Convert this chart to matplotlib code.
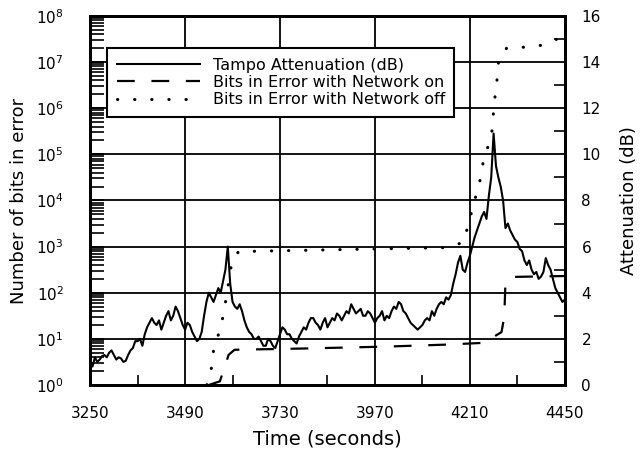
import matplotlib.pyplot as plt
from matplotlib.ticker import FixedLocator, LogLocator, NullFormatter
import numpy as np

# Tampa attenuation (dB), sampled every 6 s from 3250 s to 4450 s
att_t = np.arange(3250, 4451, 6)
att_db = [1.0, 0.8, 1.2, 1.0, 1.1, 1.25, 1.3, 1.2, 1.4, 1.5,
          1.3, 1.1, 1.2, 1.15, 1.0, 1.05, 1.3, 1.5, 1.6, 1.9,
          1.9, 2.0, 1.7, 2.2, 2.5, 2.7, 2.9, 2.7, 2.6, 2.8,
          2.4, 2.7, 3.0, 3.2, 2.8, 3.0, 3.4, 3.2, 2.9, 2.6,
          2.4, 2.7, 2.6, 2.3, 2.1, 1.9, 2.0, 2.3, 3.0, 3.6,
          4.0, 3.8, 3.6, 3.9, 4.2, 4.0, 4.5, 5.0, 6.0, 4.4,
          3.6, 3.4, 3.3, 3.5, 3.2, 2.8, 2.5, 2.3, 2.2, 2.0,
          2.0, 2.1, 1.9, 1.7, 1.7, 2.0, 1.9, 1.7, 1.6, 1.9,
          2.2, 2.5, 2.4, 2.2, 2.2, 2.0, 1.9, 1.8, 2.1, 2.3,
          2.5, 2.4, 2.7, 2.9, 2.9, 2.7, 2.6, 2.4, 2.7, 2.9,
          2.5, 2.7, 2.9, 2.8, 3.1, 3.0, 2.8, 3.0, 3.2, 3.1,
          3.5, 3.3, 3.1, 3.2, 3.3, 3.0, 3.0, 3.2, 3.1, 2.9,
          2.7, 2.9, 3.0, 3.2, 2.8, 3.0, 2.9, 3.2, 3.4, 3.3,
          3.6, 3.5, 3.2, 3.1, 2.9, 2.7, 2.6, 2.5, 2.4, 2.5,
          2.6, 2.8, 2.9, 2.8, 3.2, 3.0, 3.3, 3.5, 3.6, 3.5,
          3.8, 3.7, 3.9, 4.4, 4.8, 5.3, 5.6, 5.0, 4.9, 5.3,
          5.6, 6.0, 6.4, 6.7, 7.0, 7.3, 7.5, 7.2, 8.2, 9.0,
          10.9, 9.5, 9.0, 8.6, 8.0, 6.8, 7.0, 6.7, 6.5, 6.3,
          6.2, 5.9, 5.8, 5.4, 5.2, 5.4, 5.0, 4.8, 4.9, 4.6,
          4.7, 4.9, 5.5, 5.2, 5.0, 4.6, 4.2, 4.0, 3.8, 3.6,
          3.7]

# bits in error, network on
on_t = [3550, 3578, 3600, 3615, 3800, 4000, 4150, 4245, 4290, 4297, 4300, 4320, 4380, 4450]
on_bits = [1, 1.2, 4.5, 5.8, 6.2, 6.8, 7.5, 8.2, 14, 30, 170, 220, 225, 230]

# bits in error, network off
off_t = [3545, 3560, 3562, 3575, 3587, 3608, 3625, 4148, 4194, 4239, 4245,
         4260, 4268, 4270, 4275, 4280, 4283, 4303, 4349, 4390, 4433]
off_bits = [1, 3, 6, 13, 33, 450, 780, 950, 1230, 3.5e4, 8.5e4,
            1.8e5, 4e5, 1e6, 2.2e6, 5.2e6, 1.2e7, 2e7, 2.1e7, 2.3e7, 3.2e7]

x_ticks = [3250, 3490, 3730, 3970, 4210, 4450]

plt.rcParams['font.family'] = ['DejaVu Sans']
plt.rcParams['mathtext.fontset'] = 'dejavusans'

fig = plt.figure(figsize=(6.44, 4.54), dpi=100)
ax = fig.add_axes([0.140, 0.152, 0.737, 0.813])
ax2 = ax.twinx()

ax.set_yscale('log')
ax.set_ylim(1, 1e8)
ax.set_xlim(3250, 4450)
ax2.set_ylim(0, 16)

l_on, = ax.plot(on_t, on_bits, color='black', lw=1.6,
                linestyle=(0, (8, 7.5)),
                label='Bits in Error with Network on')
l_off, = ax.plot(off_t, off_bits, color='black', lw=2.2,
                 linestyle=(0, (0.1, 5.5)), dash_capstyle='round',
                 label='Bits in Error with Network off')
l_att, = ax2.plot(att_t, att_db, color='black', lw=1.5,
                  label='Tampo Attenuation (dB)')

ax.set_xticks(x_ticks)
ax.xaxis.set_minor_locator(FixedLocator([3370, 3610, 3850, 4090, 4330]))
ax.yaxis.set_major_locator(LogLocator(base=10, numticks=20))
ax.yaxis.set_minor_locator(LogLocator(base=10, subs=np.arange(2, 10), numticks=20))
ax.yaxis.set_minor_formatter(NullFormatter())
ax2.set_yticks(range(0, 17, 2))
ax2.yaxis.set_minor_locator(FixedLocator(range(1, 16, 2)))

ax.grid(True, which='major', color='black', lw=1.3)
ax.tick_params(which='both', direction='in', labelsize=11, width=1.2)
ax.tick_params(axis='y', which='major', length=10, pad=19)
ax.tick_params(axis='y', which='minor', length=10)
ax.tick_params(axis='x', which='major', length=0, pad=15)
ax.tick_params(axis='x', which='minor', length=7)
ax2.tick_params(which='both', direction='in', labelsize=11, width=1.2)
ax2.tick_params(which='major', length=0, pad=12)
ax2.tick_params(which='minor', length=8)

for a in (ax, ax2):
    for s in a.spines.values():
        s.set_linewidth(2)

ax.set_xlabel('Time (seconds)', fontsize=14, labelpad=6)
ax.set_ylabel('Number of bits in error', fontsize=13, labelpad=6)
ax2.set_ylabel('Attenuation (dB)', fontsize=13, labelpad=14)

leg = ax2.legend(handles=[l_att, l_on, l_off], loc='upper left',
                 bbox_to_anchor=(0.036, 0.913), fontsize=11.5,
                 handlelength=5.2, handletextpad=0.8, labelspacing=0.15,
                 borderpad=0.6, borderaxespad=0, fancybox=False,
                 framealpha=1, edgecolor='black')
leg.get_frame().set_linewidth(1.5)

fig.savefig('out.png', dpi=100)
